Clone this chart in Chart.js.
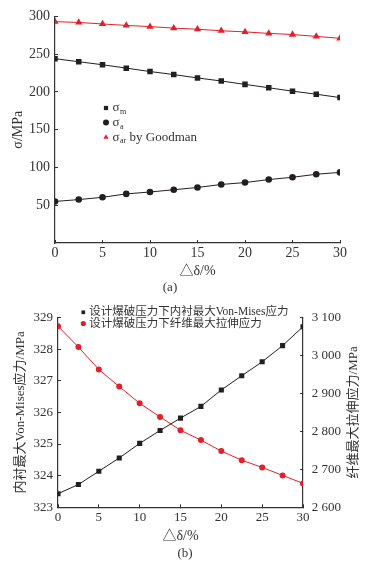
<!DOCTYPE html>
<html>
<head>
<meta charset="utf-8">
<script src="https://cdn.jsdelivr.net/npm/chart.js@4/dist/chart.umd.min.js"></script>
<style>
  html, body { margin: 0; padding: 0; background: #fff; }
  .box { position: relative; width: 370px; }
</style>
</head>
<body>
<div class="box" style="height:298px"><canvas id="chartA"></canvas></div>
<div class="box" style="height:266px"><canvas id="chartB"></canvas></div>
<script>
// Δδ (%) on the x axis, same for both plots
const deltaDelta = [0, 2.5, 5, 7.5, 10, 12.5, 15, 17.5, 20, 22.5, 25, 27.5, 30];

// (a) stresses, MPa
const sigmaM  = [244, 240, 236, 231.5, 227, 223, 218.5, 214.5, 210, 205.5, 201, 197, 192.5];
const sigmaA  = [55, 57.5, 60.5, 65, 67.5, 70.5, 73.5, 77.5, 80, 84, 87, 91, 93.5];
const sigmaAr = [293, 292, 290, 288, 286.5, 284.5, 283, 281, 279.5, 277.5, 276, 273.5, 271];

// (b) liner Von-Mises stress (left axis) and fibre tensile stress (right axis), MPa
const linerVonMises = [323.43, 323.72, 324.14, 324.56, 325.02, 325.43, 325.82, 326.19, 326.71, 327.16, 327.60, 328.11, 328.71];
const fiberTensile  = [3077, 3022, 2963, 2918, 2874, 2838, 2803, 2777, 2748, 2724, 2705, 2684, 2663];

// tick labels
const xTicks  = [0, 5, 10, 15, 20, 25, 30];
const yTicksA = [50, 100, 150, 200, 250, 300];
const yTicksB = [323, 324, 325, 326, 327, 328, 329];
const y2TicksB = [2600, 2700, 2800, 2900, 3000, 3100];

// legend texts: main symbol + subscript + rest
const legendA = [['σ', 'm', ''], ['σ', 'a', ''], ['σ', 'ar', ' by Goodman']];
const legendB = ['设计爆破压力下内衬最大Von-Mises应力', '设计爆破压力下纤维最大拉伸应力'];

const FONT = '"Liberation Serif", "Noto Sans CJK SC", "DejaVu Serif", serif';
const TEXT = '#333';
const AXIS = '#333';
const BLACK = '#231f20';
const RED = '#e3202a';

const pts = vals => vals.map((v, i) => ({ x: deltaDelta[i], y: v }));
const setTicks = list => s => { s.ticks = list.map(v => ({ value: v })); };

// legend drawn inside the plot area
const insideLegend = {
  id: 'insideLegend',
  afterDatasetsDraw(chart, args, opts) {
    const ctx = chart.ctx;
    ctx.save();
    chart.data.datasets.forEach((ds, i) => {
      const y = opts.y + i * opts.rowHeight;
      ctx.fillStyle = ds.pointBackgroundColor;
      Chart.helpers.drawPoint(ctx, { pointStyle: ds.pointStyle, radius: opts.radius, borderWidth: 0, rotation: 0 }, opts.x, y);
      ctx.fillStyle = TEXT;
      ctx.textBaseline = 'middle';
      ctx.textAlign = 'left';
      const item = opts.items[i];
      let tx = opts.textX;
      if (Array.isArray(item)) {
        ctx.font = opts.size + 'px ' + FONT;
        ctx.fillText(item[0], tx, y);
        tx += ctx.measureText(item[0]).width + 0.5;
        ctx.font = (opts.size * 0.62) + 'px ' + FONT;
        ctx.fillText(item[1], tx, y + 4);
        tx += ctx.measureText(item[1]).width;
        ctx.font = opts.size + 'px ' + FONT;
        ctx.fillText(item[2], tx, y);
      } else {
        ctx.font = opts.size + 'px ' + FONT;
        ctx.fillText(item, tx, y);
      }
    });
    ctx.restore();
  }
};

// right axis title reads bottom-to-top, like the left one
const rightTitle = {
  id: 'rightTitle',
  afterDraw(chart, args, opts) {
    if (!opts.text) return;
    const { ctx, chartArea } = chart;
    ctx.save();
    ctx.translate(opts.x, (chartArea.top + chartArea.bottom) / 2);
    ctx.rotate(-Math.PI / 2);
    ctx.font = opts.size + 'px ' + FONT;
    ctx.fillStyle = TEXT;
    ctx.textAlign = 'center';
    ctx.textBaseline = 'middle';
    ctx.fillText(opts.text, 0, 0);
    ctx.restore();
  }
};

Chart.register(insideLegend, rightTitle);

const axisBase = (size) => ({
  border: { color: AXIS, width: 1.2 },
  grid: { drawOnChartArea: false, tickLength: -3, color: AXIS, lineWidth: 1 },
  ticks: { color: TEXT, font: { family: FONT, size: size } }
});

// ---------- (a) ----------
const ax = axisBase(14), ay = axisBase(14);
new Chart(document.getElementById('chartA'), {
  type: 'line',
  data: {
    datasets: [
      { label: 'σm', data: pts(sigmaM), borderColor: BLACK, borderWidth: 1, pointStyle: 'rect',
        pointRadius: 3.9, pointBackgroundColor: BLACK, pointBorderWidth: 0 },
      { label: 'σa', data: pts(sigmaA), borderColor: BLACK, borderWidth: 1, pointStyle: 'circle',
        pointRadius: 3.3, pointBackgroundColor: BLACK, pointBorderWidth: 0 },
      { label: 'σar by Goodman', data: pts(sigmaAr), borderColor: RED, borderWidth: 1, pointStyle: 'triangle',
        pointRadius: 4.2, pointBackgroundColor: RED, pointBorderWidth: 0 }
    ]
  },
  options: {
    responsive: true,
    maintainAspectRatio: false,
    animation: false,
    layout: { padding: { top: 15, right: 30, left: 0, bottom: 0 } },
    plugins: {
      legend: { display: false },
      tooltip: { enabled: false },
      title: { display: true, text: '(a)', position: 'bottom', color: TEXT,
               font: { family: FONT, size: 13, weight: 'normal' }, padding: { top: 0, bottom: 2.5 } },
      insideLegend: { x: 106, y: 108, rowHeight: 14.6, textX: 112.5, radius: 3, size: 13, items: legendA },
      rightTitle: { text: '' }
    },
    scales: {
      x: Object.assign(ax, {
        type: 'linear', min: 0, max: 30,
        afterBuildTicks: setTicks(xTicks),
        afterFit: s => { s.height = 36.9; },
        ticks: Object.assign(ax.ticks, { padding: 5 }),
        title: { display: true, text: '△δ/%', color: TEXT, font: { family: FONT, size: 14 }, padding: 0 }
      }),
      y: Object.assign(ay, {
        min: 0, max: 300,
        afterBuildTicks: setTicks(yTicksA),
        afterFit: s => { s.width = 55; },
        ticks: Object.assign(ay.ticks, { padding: 8 }),
        title: { display: true, text: 'σ/MPa', color: TEXT, font: { family: FONT, size: 14 }, padding: { top: 9.6, bottom: 0 } }
      })
    }
  }
});

// ---------- (b) ----------
const bx = axisBase(13), by = axisBase(13), by2 = axisBase(13);
new Chart(document.getElementById('chartB'), {
  type: 'line',
  data: {
    datasets: [
      { label: legendB[0], data: pts(linerVonMises), yAxisID: 'y', borderColor: BLACK, borderWidth: 1,
        pointStyle: 'rect', pointRadius: 3.6, pointBackgroundColor: BLACK, pointBorderWidth: 0 },
      { label: legendB[1], data: pts(fiberTensile), yAxisID: 'y2', borderColor: RED, borderWidth: 1,
        pointStyle: 'circle', pointRadius: 3, pointBackgroundColor: RED, pointBorderWidth: 0 }
    ]
  },
  options: {
    responsive: true,
    maintainAspectRatio: false,
    animation: false,
    layout: { padding: { top: 12, right: 0, left: 0, bottom: 0 } },
    plugins: {
      legend: { display: false },
      tooltip: { enabled: false },
      title: { display: true, text: '(b)', position: 'bottom', color: TEXT,
               font: { family: FONT, size: 13, weight: 'normal' }, padding: { top: 0.4, bottom: 2.9 } },
      insideLegend: { x: 83.3, y: 14.3, rowHeight: 11.2, textX: 89.3, radius: 2.6, size: 11.5, items: legendB },
      rightTitle: { text: '纤维最大拉伸应力/MPa', x: 353.3, size: 13 }
    },
    scales: {
      x: Object.assign(bx, {
        type: 'linear', min: 0, max: 30,
        afterBuildTicks: setTicks(xTicks),
        afterFit: s => { s.height = 37.8; },
        ticks: Object.assign(bx.ticks, { padding: 5 }),
        title: { display: true, text: '△δ/%', color: TEXT, font: { family: FONT, size: 14 }, padding: 0 }
      }),
      y: Object.assign(by, {
        position: 'left', min: 323, max: 329,
        afterBuildTicks: setTicks(yTicksB),
        afterFit: s => { s.width = 58; },
        ticks: Object.assign(by.ticks, { padding: 8 }),
        title: { display: true, text: '内衬最大Von-Mises应力/MPa', color: TEXT, font: { family: FONT, size: 13 },
                 padding: { top: 12.9, bottom: 0 } }
      }),
      y2: Object.assign(by2, {
        position: 'right', min: 2600, max: 3100,
        afterBuildTicks: setTicks(y2TicksB),
        afterFit: s => { s.width = 67; },
        ticks: Object.assign(by2.ticks, {
          padding: 11.7,
          callback: v => Math.floor(v / 1000) + ' ' + String(v % 1000).padStart(3, '0')
        })
      })
    }
  }
});
</script>
</body>
</html>
